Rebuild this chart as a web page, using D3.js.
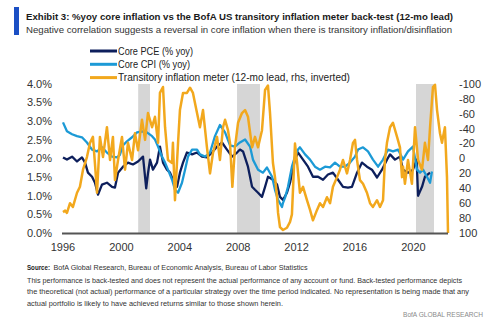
<!DOCTYPE html>
<html>
<head>
<meta charset="utf-8">
<script src="https://cdn.jsdelivr.net/npm/d3@7"></script>
<style>
  body { margin: 0; background: #fff; }
  svg { display: block; font-family: "Liberation Sans Narrow", "Liberation Sans", "DejaVu Sans Condensed", sans-serif; }
</style>
</head>
<body>
<svg id="chart" width="500" height="324"></svg>
<script>
// recession shading (decimal years)
const recStart = [2001.15, 2007.92, 2020.18]
const recEnd = [2001.96, 2009.49, 2021.41]

const yearTicks = [1996, 2000, 2004, 2008, 2012, 2016, 2020]
const leftTicks = [0, 0.5, 1, 1.5, 2, 2.5, 3, 3.5, 4]
const rightTicks = [-100, -80, -60, -40, -20, 0, 20, 40, 60, 80, 100]

const seriesNames = ["Core PCE (% yoy)", "Core CPI (% yoy)", "Transitory inflation meter (12-mo lead, rhs, inverted)"]

// Core PCE % yoy
const pceDates = [1996.00, 1996.27, 1996.62, 1996.96, 1997.30, 1997.51, 1997.71, 1997.99, 1998.19, 1998.40, 1998.67, 1999.01, 1999.36, 1999.56, 1999.77, 2000.11, 2000.45, 2000.79, 2001.14, 2001.48, 2001.70, 2001.82, 2001.96, 2002.16, 2002.44, 2002.64, 2002.85, 2003.12, 2003.33, 2003.53, 2003.81, 2004.01, 2004.22, 2004.49, 2004.84, 2005.18, 2005.52, 2005.86, 2006.21, 2006.55, 2006.89, 2007.23, 2007.58, 2007.92, 2008.12, 2008.33, 2008.67, 2008.95, 2009.15, 2009.36, 2009.63, 2009.84, 2010.04, 2010.38, 2010.66, 2010.86, 2011.07, 2011.34, 2011.55, 2011.89, 2012.10, 2012.44, 2012.78, 2013.12, 2013.47, 2013.81, 2014.15, 2014.49, 2014.84, 2015.18, 2015.52, 2015.79, 2016.14, 2016.48, 2016.82, 2017.16, 2017.51, 2017.85, 2018.19, 2018.40, 2018.74, 2019.08, 2019.29, 2019.63, 2019.97, 2020.22, 2020.32, 2020.59, 2020.79, 2021.14]
const pceValues = [2.03, 1.97, 2.05, 1.92, 2.03, 1.89, 1.62, 1.51, 1.35, 1.03, 1.30, 1.35, 1.24, 1.22, 1.62, 1.78, 1.89, 1.84, 1.92, 2.05, 1.20, 1.60, 1.97, 1.70, 1.89, 2.32, 1.89, 1.70, 1.62, 1.43, 1.24, 1.62, 1.89, 2.16, 2.11, 2.16, 2.05, 2.03, 2.16, 2.32, 2.43, 2.24, 2.05, 2.16, 2.24, 2.19, 1.78, 1.24, 1.16, 1.08, 0.97, 1.24, 1.51, 1.43, 1.30, 0.97, 0.89, 1.08, 1.35, 1.97, 2.16, 1.97, 1.78, 1.51, 1.51, 1.43, 1.57, 1.62, 1.43, 1.24, 1.22, 1.24, 1.62, 1.89, 1.78, 1.70, 1.49, 1.70, 1.97, 2.11, 1.97, 2.05, 1.70, 1.62, 1.70, 1.97, 1.00, 1.24, 1.51, 1.62]

// Core CPI % yoy
const cpiDates = [1996.00, 1996.27, 1996.62, 1996.96, 1997.30, 1997.64, 1997.99, 1998.33, 1998.67, 1999.01, 1999.36, 1999.70, 1999.90, 2000.10, 2000.38, 2000.73, 2001.07, 2001.41, 2001.75, 2002.10, 2002.30, 2002.51, 2002.78, 2002.99, 2003.19, 2003.47, 2003.67, 2003.88, 2004.15, 2004.36, 2004.56, 2004.84, 2005.18, 2005.38, 2005.73, 2006.07, 2006.41, 2006.75, 2007.10, 2007.44, 2007.78, 2008.12, 2008.47, 2008.81, 2009.01, 2009.36, 2009.70, 2009.97, 2010.32, 2010.52, 2010.73, 2011.00, 2011.07, 2011.21, 2011.41, 2011.68, 2011.89, 2012.10, 2012.23, 2012.58, 2012.92, 2013.26, 2013.60, 2013.95, 2014.29, 2014.63, 2014.97, 2015.32, 2015.66, 2016.00, 2016.21, 2016.55, 2016.89, 2017.23, 2017.58, 2017.92, 2018.26, 2018.60, 2018.95, 2019.29, 2019.63, 2019.97, 2020.25, 2020.45, 2020.66, 2020.93, 2021.14, 2021.27]
const cpiValues = [2.97, 2.73, 2.65, 2.60, 2.57, 2.43, 2.24, 2.19, 2.30, 2.16, 2.05, 2.03, 2.10, 2.35, 2.46, 2.57, 2.70, 2.73, 2.70, 2.60, 2.51, 2.32, 2.05, 1.89, 1.70, 1.43, 1.16, 1.08, 1.35, 1.70, 2.05, 2.24, 2.24, 2.11, 2.05, 2.16, 2.60, 2.90, 2.70, 2.35, 2.32, 2.43, 2.51, 2.32, 1.97, 1.70, 1.62, 1.76, 1.51, 1.16, 0.89, 0.70, 0.81, 0.95, 1.24, 1.78, 2.05, 2.24, 2.30, 2.11, 1.97, 1.78, 1.70, 1.78, 1.76, 1.89, 1.78, 1.78, 1.89, 2.05, 2.24, 2.30, 2.19, 1.97, 1.78, 1.97, 2.24, 2.19, 2.24, 1.97, 2.19, 2.32, 1.70, 1.62, 1.70, 1.51, 1.35, 1.65]

// transitory inflation meter, 12-mo lead (rhs, inverted)
const meterDates = [1996.00, 1996.15, 1996.27, 1996.48, 1996.68, 1996.96, 1997.16, 1997.37, 1997.64, 1997.85, 1998.05, 1998.20, 1998.33, 1998.53, 1998.74, 1999.01, 1999.22, 1999.42, 1999.56, 1999.77, 2000.04, 2000.25, 2000.45, 2000.73, 2000.93, 2001.14, 2001.41, 2001.62, 2001.82, 2002.10, 2002.30, 2002.51, 2002.64, 2002.85, 2002.99, 2003.19, 2003.47, 2003.53, 2003.67, 2003.88, 2004.01, 2004.22, 2004.49, 2004.70, 2004.90, 2005.18, 2005.38, 2005.59, 2005.86, 2006.07, 2006.27, 2006.55, 2006.75, 2006.96, 2007.10, 2007.30, 2007.44, 2007.60, 2007.78, 2007.99, 2008.26, 2008.47, 2008.67, 2008.95, 2009.15, 2009.36, 2009.63, 2009.84, 2010.04, 2010.18, 2010.38, 2010.52, 2010.66, 2010.73, 2010.86, 2011.07, 2011.34, 2011.55, 2011.68, 2011.89, 2012.03, 2012.23, 2012.44, 2012.71, 2012.92, 2013.12, 2013.40, 2013.60, 2013.81, 2014.08, 2014.29, 2014.49, 2014.77, 2014.97, 2015.18, 2015.45, 2015.66, 2015.86, 2016.00, 2016.14, 2016.34, 2016.55, 2016.82, 2017.03, 2017.23, 2017.51, 2017.71, 2017.92, 2018.05, 2018.19, 2018.40, 2018.60, 2018.88, 2019.08, 2019.22, 2019.29, 2019.42, 2019.63, 2019.90, 2020.11, 2020.32, 2020.59, 2020.79, 2021.00, 2021.14, 2021.34, 2021.48, 2021.62, 2021.82, 2021.96, 2022.03, 2022.16, 2022.30, 2022.37]
const meterValues = [72, 70, 73, 60, 65, 46, 38, 15, -2, -21, -29, 10, 46, -29, -2, -42, 2, -29, 29, 2, -29, 15, -21, 2, -34, -11, -52, -25, -61, -42, -56, -21, -88, -96, -42, 2, 6, -21, 56, -21, -65, -88, -88, -95, -88, -61, -42, -65, -15, 20, -7, -29, 2, -42, -52, -38, -21, 38, -15, -48, -61, -65, -56, -15, -29, -15, -38, -92, -98, -61, 6, 25, 52, 73, 92, 96, 93, 85, 75, -20, 5, 46, 38, 56, 69, 83, 69, 60, 65, 52, 60, 38, 25, 15, 2, 20, 2, -21, -25, 2, 29, 34, 46, 60, 65, 56, 65, 56, 2, -21, -42, -48, -29, -15, 25, 11, 34, 2, 34, -42, 2, 15, -21, 2, -42, -96, -99, -65, -34, -21, -29, -42, 25, 100]

const colors = { pce: "#0d1f5c", cpi: "#1c9ad6", meter: "#f2a81d" }

const svg = d3.select("#chart")
svg.append("rect").attr("width", 500).attr("height", 324).attr("fill", "#fff")

const x = d3.scaleLinear().domain([1996, 2022.37]).range([63, 448])
const yL = d3.scaleLinear().domain([0, 4]).range([233, 84])
const yR = d3.scaleLinear().domain([-100, 100]).range([84, 233])

//----------------------------------------------------------- header
svg.append("rect").attr("x", 14).attr("y", 7).attr("width", 5).attr("height", 28).attr("fill", "#1b4fc4")
svg.append("text").attr("x", 26).attr("y", 19.5).attr("font-size", 9.6).attr("font-weight", "bold").attr("fill", "#1a1a1a")
  .attr("textLength", 427).attr("lengthAdjust", "spacingAndGlyphs")
  .text("Exhibit 3: %yoy core inflation vs the BofA US transitory inflation meter back-test (12-mo lead)")
svg.append("text").attr("x", 26).attr("y", 32.5).attr("font-size", 9.8).attr("fill", "#333")
  .attr("textLength", 426).attr("lengthAdjust", "spacingAndGlyphs")
  .text("Negative correlation suggests a reversal in core inflation when there is transitory inflation/disinflation")

//----------------------------------------------------------- recession bands
const bands = recStart.map((s, i) => [s, recEnd[i]])
svg.selectAll(".band").data(bands).join("rect").attr("class", "band")
  .attr("x", d => x(d[0])).attr("width", d => x(d[1]) - x(d[0]))
  .attr("y", yL(4)).attr("height", yL(0) - yL(4)).attr("fill", "#d6d6d6")

//----------------------------------------------------------- axes
const tickFont = "Liberation Sans, Arial, sans-serif"
svg.selectAll(".ltick").data(leftTicks).join("text").attr("class", "ltick")
  .attr("x", 52).attr("y", d => yL(d)).attr("dy", "0.35em").attr("text-anchor", "end")
  .attr("font-size", 11).attr("font-family", tickFont).attr("fill", "#333")
  .text(d => d3.format(".1f")(d) + "%")
svg.selectAll(".rtick").data(rightTicks).join("text").attr("class", "rtick")
  .attr("x", 459).attr("y", d => yR(d)).attr("dy", "0.35em").attr("text-anchor", "start")
  .attr("font-size", 11).attr("font-family", tickFont).attr("fill", "#333")
  .text(d => d)
svg.selectAll(".xtick").data(yearTicks).join("text").attr("class", "xtick")
  .attr("x", d => x(d)).attr("y", 251).attr("text-anchor", "middle")
  .attr("font-size", 11).attr("font-family", tickFont).attr("fill", "#333")
  .text(d => d)

//----------------------------------------------------------- lines
const pce = pceDates.map((d, i) => [d, pceValues[i]])
const cpi = cpiDates.map((d, i) => [d, cpiValues[i]])
const meter = meterDates.map((d, i) => [d, meterValues[i]])
const lineL = d3.line().x(d => x(d[0])).y(d => yL(d[1]))
const lineR = d3.line().x(d => x(d[0])).y(d => yR(d[1]))

svg.append("path").datum(pce).attr("d", lineL).attr("fill", "none").attr("stroke", colors.pce).attr("stroke-width", 2.3).attr("stroke-linejoin", "round")
svg.append("path").datum(cpi).attr("d", lineL).attr("fill", "none").attr("stroke", colors.cpi).attr("stroke-width", 2.3).attr("stroke-linejoin", "round")
svg.append("path").datum(meter).attr("d", lineR).attr("fill", "none").attr("stroke", colors.meter).attr("stroke-width", 2.5).attr("stroke-linejoin", "round")

svg.append("line").attr("x1", 62).attr("x2", 448).attr("y1", 233.5).attr("y2", 233.5).attr("stroke", "#555").attr("stroke-width", 2)

//----------------------------------------------------------- legend
const legColors = [colors.pce, colors.cpi, colors.meter]
const legWidths = [75, 72, 232]
const legend = svg.selectAll(".leg").data(seriesNames).join("g").attr("class", "leg")
  .attr("transform", (d, i) => `translate(90, ${51 + i * 13.3})`)
legend.append("line").attr("x1", 0).attr("x2", 27).attr("stroke", (d, i) => legColors[i]).attr("stroke-width", 3)
legend.append("text").attr("x", 28).attr("dy", "0.35em").attr("font-size", 11).attr("fill", "#222")
  .attr("textLength", (d, i) => legWidths[i]).attr("lengthAdjust", "spacingAndGlyphs")
  .text(d => d)

//----------------------------------------------------------- footer
svg.append("text").attr("x", 27).attr("y", 270).attr("font-size", 7.5).attr("font-weight", "bold").attr("fill", "#222")
  .attr("textLength", 23).attr("lengthAdjust", "spacingAndGlyphs").text("Source:")
svg.append("text").attr("x", 53.5).attr("y", 270).attr("font-size", 7.5).attr("fill", "#333")
  .attr("textLength", 254).attr("lengthAdjust", "spacingAndGlyphs")
  .text("BofA Global Research, Bureau of Economic Analysis, Bureau of Labor Statistics")
const notes = [
  "This performance is back-tested and does not represent the actual performance of any account or fund. Back-tested performance depicts",
  "the theoretical (not actual) performance of a particular strategy over the time period indicated. No representation is being made that any",
  "actual portfolio is likely to have achieved returns similar to those shown herein."
]
const noteWidths = [435, 442, 256]
svg.selectAll(".note").data(notes).join("text").attr("class", "note")
  .attr("x", 27).attr("y", (d, i) => 282.5 + i * 11.8).attr("font-size", 7.5).attr("fill", "#333")
  .attr("textLength", (d, i) => noteWidths[i]).attr("lengthAdjust", "spacingAndGlyphs")
  .text(d => d)
svg.append("text").attr("x", 483).attr("y", 317).attr("text-anchor", "end").attr("font-size", 7.5).attr("fill", "#8a8a8a")
  .attr("textLength", 80).attr("lengthAdjust", "spacingAndGlyphs").text("BofA GLOBAL RESEARCH")
</script>
</body>
</html>
